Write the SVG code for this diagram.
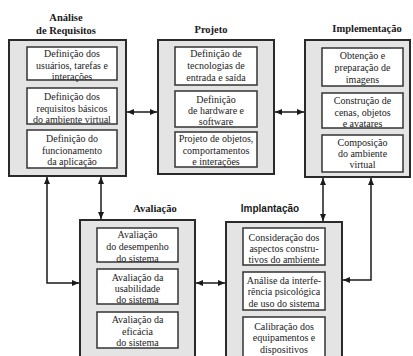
<svg xmlns="http://www.w3.org/2000/svg" width="413" height="356" viewBox="0 0 413 356" font-family="Liberation Serif, Times New Roman, DejaVu Serif, serif">
<style>
.outer{fill:#e4e4e4;stroke:#2a2a2a;stroke-width:2}
.inner{fill:#fff;stroke:#333;stroke-width:1.5}
.t{font-size:10px;fill:#222;text-anchor:middle}
.h{font-size:10.5px;font-weight:bold;fill:#1a1a1a;text-anchor:middle}
.hs{font-size:10px;font-weight:bold;fill:#1a1a1a;text-anchor:middle}
.c{fill:none;stroke:#1a1a1a;stroke-width:1.5;marker-start:url(#ah);marker-end:url(#ah)}
</style>
<defs>
<marker id="ah" markerUnits="userSpaceOnUse" markerWidth="7" markerHeight="6" refX="7" refY="3" orient="auto-start-reverse">
<path d="M0,0 L7,3 L0,6 z" fill="#1a1a1a"/>
</marker>
</defs>
<rect width="413" height="356" fill="#fff"/>

<g id="analise">
<text class="h" x="66" y="21">Análise</text>
<text class="h" x="66" y="34">de Requisitos</text>
<rect class="outer" x="9" y="40" width="117" height="136"/>
<rect class="inner" x="27" y="47" width="90" height="33"/>
<text class="t" x="72" y="57">Definição dos</text>
<text class="t" x="72" y="69">usuários, tarefas e</text>
<text class="t" x="72" y="80">interações</text>
<rect class="inner" x="27" y="88" width="90" height="36"/>
<text class="t" x="72" y="100">Definição dos</text>
<text class="t" x="72" y="112">requisitos básicos</text>
<text class="t" x="72" y="123">do ambiente virtual</text>
<rect class="inner" x="27" y="130" width="90" height="38"/>
<text class="t" x="72" y="142">Definição do</text>
<text class="t" x="72" y="154">funcionamento</text>
<text class="t" x="72" y="165">da aplicação</text>
</g>

<g id="projeto">
<text class="h" x="211" y="33">Projeto</text>
<rect class="outer" x="158" y="40" width="116" height="134"/>
<rect class="inner" x="175" y="47" width="82" height="38"/>
<text class="t" x="216" y="57">Definição de</text>
<text class="t" x="216" y="69">tecnologias de</text>
<text class="t" x="216" y="81">entrada e saída</text>
<rect class="inner" x="175" y="91" width="82" height="36"/>
<text class="t" x="216" y="103">Definição</text>
<text class="t" x="216" y="114">de hardware e</text>
<text class="t" x="216" y="125">software</text>
<rect class="inner" x="175" y="132" width="82" height="35"/>
<text class="t" x="216" y="142">Projeto de objetos,</text>
<text class="t" x="216" y="154">comportamentos</text>
<text class="t" x="216" y="165">e interações</text>
</g>

<g id="implementacao">
<text class="h" x="367" y="32">Implementação</text>
<rect class="outer" x="305" y="40" width="105" height="137"/>
<rect class="inner" x="322" y="48" width="81" height="38"/>
<text class="t" x="362.5" y="59">Obtenção e</text>
<text class="t" x="362.5" y="71">preparação de</text>
<text class="t" x="362.5" y="83">imagens</text>
<rect class="inner" x="322" y="93" width="81" height="35"/>
<text class="t" x="362.5" y="104">Construção de</text>
<text class="t" x="362.5" y="116">cenas, objetos</text>
<text class="t" x="362.5" y="127">e avatares</text>
<rect class="inner" x="322" y="135" width="81" height="37"/>
<text class="t" x="362.5" y="146">Composição</text>
<text class="t" x="362.5" y="157">do ambiente</text>
<text class="t" x="362.5" y="168">virtual</text>
</g>

<g id="avaliacao">
<text class="h" x="155" y="212">Avaliação</text>
<rect class="outer" x="80" y="220" width="115" height="142"/>
<rect class="inner" x="97" y="228" width="81" height="34"/>
<text class="t" x="137.5" y="238">Avaliação</text>
<text class="t" x="137.5" y="250">do desempenho</text>
<text class="t" x="137.5" y="262">do sistema</text>
<rect class="inner" x="97" y="269" width="81" height="35"/>
<text class="t" x="137.5" y="281">Avaliação da</text>
<text class="t" x="137.5" y="292">usabilidade</text>
<text class="t" x="137.5" y="303">do sistema</text>
<rect class="inner" x="97" y="312" width="81" height="36"/>
<text class="t" x="137.5" y="323">Avaliação da</text>
<text class="t" x="137.5" y="335">eficácia</text>
<text class="t" x="137.5" y="346">do sistema</text>
</g>

<g id="implantacao">
<text class="hs" x="270" y="212" font-family="Liberation Sans, Arial, sans-serif">Implantação</text>
<rect class="outer" x="226" y="222" width="116" height="140"/>
<rect class="inner" x="243" y="228" width="82" height="37"/>
<text class="t" x="284" y="241">Consideração dos</text>
<text class="t" x="284" y="252">aspectos constru-</text>
<text class="t" x="284" y="263">tivos do ambiente</text>
<rect class="inner" x="243" y="272" width="82" height="38"/>
<text class="t" x="284" y="284">Análise  da interfe-</text>
<text class="t" x="284" y="295">rência psicológica</text>
<text class="t" x="284" y="307">de uso do sistema</text>
<rect class="inner" x="243" y="317" width="82" height="41"/>
<text class="t" x="284" y="330">Calibração dos</text>
<text class="t" x="284" y="341">equipamentos e</text>
<text class="t" x="284" y="353">dispositivos</text>
</g>

<g id="connectors">
<path class="c" d="M127,112 H157"/>
<path class="c" d="M275,112 H304"/>
<path class="c" d="M101,177 V219"/>
<path class="c" d="M47,177 V283 H79"/>
<path class="c" d="M196,283 H225"/>
<path class="c" d="M323,178 V221"/>
<path class="c" d="M371,178 V280 H343"/>
</g>
</svg>
